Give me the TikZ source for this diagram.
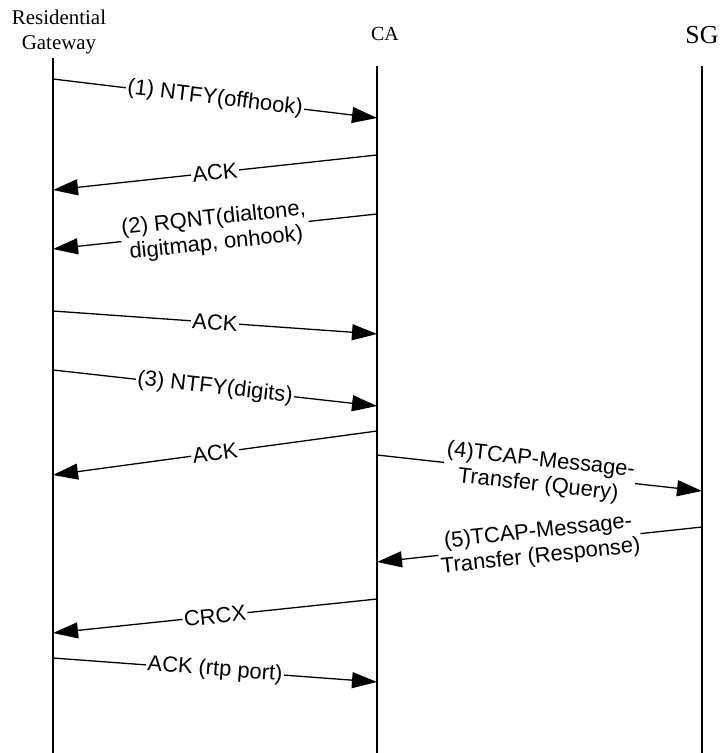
\documentclass[tikz,border=0pt]{standalone}
\usepackage{fontspec}
\setmainfont{Liberation Serif}
\setsansfont{Liberation Sans}
\usetikzlibrary{arrows.meta}

\tikzset{
  party/.style={font=\fontsize{21}{25}\selectfont, align=center, inner sep=0pt},
  lifeline/.style={line width=1.3bp},
  msg/.style={line width=1.3bp, -{Triangle[length=25bp,width=16bp]}},
  lbl/.style={midway, sloped, fill=white, inner sep=1.5bp, align=center,
    font=\sffamily\fontsize{22}{25}\selectfont}
}

\begin{document}
\begin{tikzpicture}[x=1bp,y=-1bp]
  \useasboundingbox (0,0) rectangle (721,753);

  % Parties
  \node[party] (rg) at (59,32) {Residential\\Gateway};
  \node[party, font=\fontsize{20}{25}\selectfont] (ca) at (385,34) {CA};
  \node[party, font=\fontsize{26}{30}\selectfont] (sg) at (702,35) {SG};

  % Lifelines
  \coordinate (rgtop) at (53,58);  \coordinate (rgbot) at (53,753);
  \coordinate (catop) at (377,66); \coordinate (cabot) at (377,753);
  \coordinate (sgtop) at (702,66); \coordinate (sgbot) at (702,753);
  \draw[lifeline] (rgtop) -- (rgbot);
  \draw[lifeline] (catop) -- (cabot);
  \draw[lifeline] (sgtop) -- (sgbot);

  % (1) offhook
  \coordinate (m1a) at (53,79);   \coordinate (m1b) at (377,118);
  \draw[msg] (m1a) -- (m1b) node[lbl] {(1) NTFY(offhook)};

  % ACK
  \coordinate (m2a) at (377,155); \coordinate (m2b) at (53,190);
  \draw[msg] (m2a) -- (m2b) node[lbl] {ACK};

  % (2) dialtone request
  \coordinate (m3a) at (377,214); \coordinate (m3b) at (53,249);
  \draw[msg] (m3a) -- (m3b) node[lbl] {(2) RQNT(dialtone,\\digitmap, onhook)};

  % ACK
  \coordinate (m4a) at (53,311);  \coordinate (m4b) at (377,334);
  \draw[msg] (m4a) -- (m4b) node[lbl] {ACK};

  % (3) digits
  \coordinate (m5a) at (53,370);  \coordinate (m5b) at (377,406);
  \draw[msg] (m5a) -- (m5b) node[lbl] {(3) NTFY(digits)};

  % ACK
  \coordinate (m6a) at (377,431); \coordinate (m6b) at (53,475);
  \draw[msg] (m6a) -- (m6b) node[lbl] {ACK};

  % (4) query to SG
  \coordinate (m7a) at (377,455); \coordinate (m7b) at (702,491);
  \draw[msg] (m7a) -- (m7b) node[lbl] {(4)TCAP-Message-\\Transfer (Query)};

  % (5) response from SG
  \coordinate (m8a) at (702,527); \coordinate (m8b) at (377,562);
  \draw[msg] (m8a) -- (m8b) node[lbl] {(5)TCAP-Message-\\Transfer (Response)};

  % CRCX
  \coordinate (m9a) at (377,599); \coordinate (m9b) at (53,633);
  \draw[msg] (m9a) -- (m9b) node[lbl] {CRCX};

  % ACK with port
  \coordinate (m10a) at (53,658); \coordinate (m10b) at (377,682);
  \draw[msg] (m10a) -- (m10b) node[lbl] {ACK (rtp port)};
\end{tikzpicture}
\end{document}
